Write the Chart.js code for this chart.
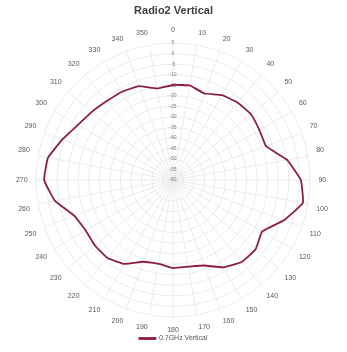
<!DOCTYPE html>
<html>
<head>
<meta charset="utf-8">
<script src="https://cdn.jsdelivr.net/npm/chart.js@4/dist/chart.umd.min.js"></script>
<style>
  html, body { margin: 0; padding: 0; background: #fff; }
  #wrap { width: 347px; height: 352px; }
</style>
</head>
<body>
<div id="wrap"><canvas id="chart" width="347" height="352"></canvas></div>
<script>
// angles in degrees, one spoke each
const angles = ['0','10','20','30','40','50','60','70','80','90','100','110',
  '120','130','140','150','160','170','180','190','200','210','220','230',
  '240','250','260','270','280','290','300','310','320','330','340','350'];
// gain in dB
const gainVertical = [-14.9, -14.4, -16.3, -13.5, -12.1, -11.6, -12.6, -13.0, -5.0, 0.7, 2.6, -4.0,
  -11.1, -8.8, -9.2, -12.1, -16.8, -18.2, -18.2, -19.7, -18.7, -14.0, -11.6, -11.6,
  -12.1, -10.2, -3.1, 1.2, 0.3, -4.0, -7.8, -9.7, -11.1, -11.6, -12.6, -15.9];
const seriesName = '0.7GHz Vertical';
const scaleMin = -60, scaleMax = 5, scaleStep = 5;

const ctx = document.getElementById('chart').getContext('2d');
new Chart(ctx, {
  type: 'radar',
  data: {
    labels: angles,
    datasets: [{
      label: seriesName,
      data: gainVertical,
      borderColor: '#8b1f3f',
      backgroundColor: '#8b1f3f',
      borderWidth: 1.8,
      fill: false,
      pointRadius: 0,
      tension: 0.1
    }]
  },
  options: {
    responsive: false,
    animation: false,
    layout: { padding: { top: 2, bottom: 0, left: 4, right: 4 } },
    plugins: {
      title: {
        display: true,
        text: 'Radio2 Vertical',
        color: '#404040',
        font: { family: 'Liberation Sans', size: 11, weight: 'bold' },
        padding: { top: 2, bottom: 9 }
      },
      legend: {
        position: 'bottom',
        labels: {
          boxWidth: 16,
          boxHeight: 1,
          color: '#595959',
          font: { family: 'Liberation Sans', size: 7 },
          padding: 1
        }
      },
      tooltip: { enabled: false }
    },
    scales: {
      r: {
        min: scaleMin,
        max: scaleMax,
        ticks: {
          stepSize: scaleStep,
          showLabelBackdrop: false,
          color: '#7f7f7f',
          font: { family: 'Liberation Sans', size: 5 }
        },
        grid: { circular: true, color: '#ebebeb', lineWidth: 1 },
        angleLines: { color: '#ebebeb' },
        pointLabels: {
          color: '#595959',
          font: { family: 'Liberation Sans', size: 7 },
          padding: 4
        }
      }
    }
  }
});
</script>
</body>
</html>
